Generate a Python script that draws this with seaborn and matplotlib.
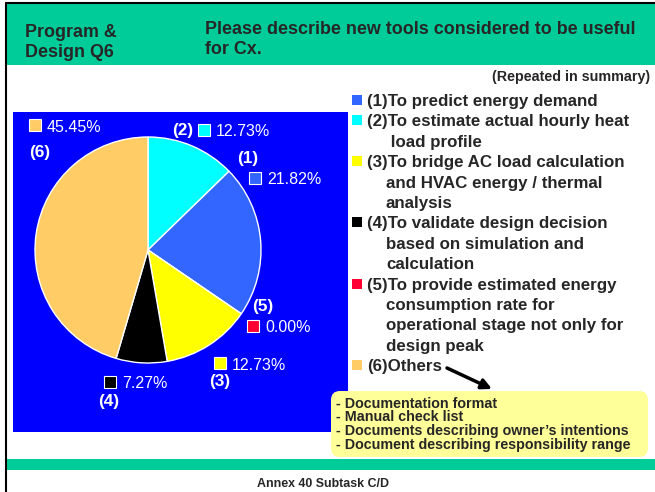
import numpy as np
import matplotlib
matplotlib.use("Agg")
import matplotlib.pyplot as plt
import seaborn as sns
from matplotlib.patches import Rectangle, FancyBboxPatch

# data
categories = ["(1)", "(2)", "(3)", "(4)", "(5)", "(6)"]
shares = [21.82, 12.73, 12.73, 7.27, 0.00, 45.45]
pie_order = [1, 0, 4, 2, 3, 5]   # clockwise from 12 o'clock
legend_text = [
    ["(1)To predict energy demand"],
    ["(2)To estimate actual hourly heat", " load profile"],
    ["(3)To bridge AC load calculation", "and HVAC energy / thermal", "analysis"],
    ["(4)To validate design decision", "based on simulation and", "calculation"],
    ["(5)To provide estimated energy", "consumption rate for",
     "operational stage not only for", "design peak"],
    ["(6)Others"],
]
note_lines = [
    "- Documentation format",
    "- Manual check list",
    "- Documents describing owner\u2019s intentions",
    "- Document describing responsibility range",
]
header_left = "Program &\nDesign Q6"
header_title = "Please describe new tools considered to be useful\nfor Cx."

colors = sns.color_palette(["#3366FF", "#00FFFF", "#FFFF00", "#000000", "#FF0033", "#FFCC66"])

sns.set_style("white")
plt.rcParams["font.family"] = ["Liberation Sans", "DejaVu Sans"]

W, H = 655, 492
fig = plt.figure(figsize=(6.55, 4.92), dpi=100)
ax = fig.add_axes([0, 0, 1, 1])
ax.set_xlim(0, W)
ax.set_ylim(H, 0)
ax.axis("off")

teal = "#00CC99"
# frame + bands
ax.add_patch(Rectangle((6, 3), W - 6, 61.5, color=teal, lw=0))
ax.add_patch(Rectangle((6, 459), W - 6, 11, color=teal, lw=0))
ax.plot([6, 6], [3, H], color="black", lw=1.5)
ax.plot([6, W], [3, 3], color="black", lw=1.5)
ax.add_patch(Rectangle((13, 112), 335, 320, color="#0000FF", lw=0))

# header
ax.text(25, 37, "Program &", fontsize=12.9, fontweight="bold", va="baseline")
ax.text(25, 57, "Design Q6", fontsize=12.9, fontweight="bold", va="baseline")
t1, t2 = header_title.split("\n")
ax.text(205, 34.5, t1, fontsize=12.9, fontweight="bold", va="baseline")
ax.text(205, 54, t2, fontsize=12.9, fontweight="bold", va="baseline")
ax.text(650, 81.5, "(Repeated in summary)", fontsize=10.3, fontweight="bold",
        ha="right", va="baseline")

# pie
cx, cy, r = 148, 250, 113
pax = fig.add_axes([(cx - r) / W, (H - cy - r) / H, 2 * r / W, 2 * r / H])
pax.set_facecolor("none")
pax.pie([shares[i] for i in pie_order], colors=[colors[i] for i in pie_order],
        startangle=90, counterclock=False,
        wedgeprops=dict(edgecolor="white", linewidth=1, clip_on=False))
pax.set_xlim(-1, 1)
pax.set_ylim(-1, 1)
pax.set_aspect("equal")
pax.axis("off")

# pie labels: (square x, square top, text baseline) per category, number label pos
pct_pos = {0: (249, 172, 184.5), 1: (198, 124, 136.5), 2: (214, 357, 369.5),
           3: (104, 376, 388.5), 4: (247, 320, 332.5), 5: (29, 119, 132)}
num_pos = {0: (237, 163), 1: (172, 135), 2: (209, 386),
           3: (98, 406), 4: (252, 311.5), 5: (29, 157.5)}
for i, val in enumerate(shares):
    sx, sy, by = pct_pos[i]
    ax.add_patch(Rectangle((sx, sy), 12, 12, facecolor=colors[i], edgecolor="white", lw=0.8))
    ax.text(sx + 18, by, f"{val:.2f}%", fontsize=11.5, color="white", va="baseline")
    nx, ny = num_pos[i]
    ax.text(nx, ny, categories[i], fontsize=12.4, fontweight="bold", color="white",
            va="baseline")

# legend
base = 106
step = 20.4
k = 0
for i, lines in enumerate(legend_text):
    ax.add_patch(Rectangle((352, base + k * step - 11), 10, 10, color=colors[i], lw=0))
    for j, line in enumerate(lines):
        x = 367 if j == 0 else 386
        ax.text(x, base + k * step, line, fontsize=12.2, fontweight="bold", va="baseline")
        k += 1

# arrow from Others to the note box
ax.annotate("", xy=(492, 389), xytext=(447, 368),
            arrowprops=dict(arrowstyle="-|>,head_length=0.6,head_width=0.3",
                            color="black", lw=2.5, shrinkA=0, shrinkB=0))

# note box
ax.add_patch(FancyBboxPatch((331, 391), 317, 66,
                            boxstyle="round,pad=0,rounding_size=9",
                            facecolor="#FFFF99", edgecolor="none"))
for j, line in enumerate(note_lines):
    ax.text(336, 407.5 + j * 13.8, line, fontsize=10.3, fontweight="bold", va="baseline")

# footer
ax.text(323, 487, "Annex 40 Subtask C/D", fontsize=8.9, fontweight="bold",
        ha="center", va="baseline")

fig.savefig("out.png", dpi=100)
